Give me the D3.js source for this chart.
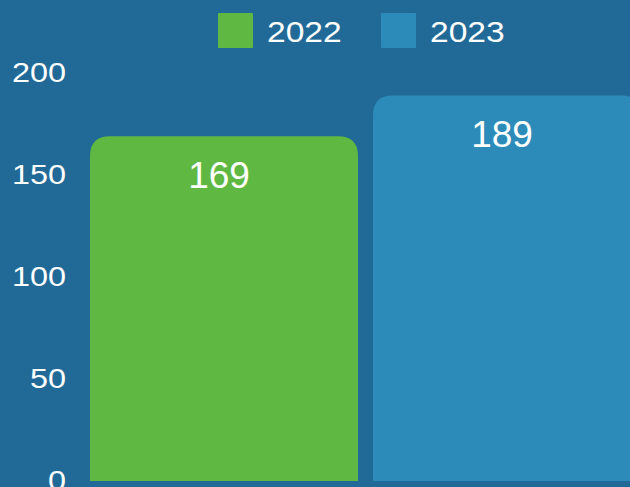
<!DOCTYPE html>
<html>
<head>
<meta charset="utf-8">
<script src="https://cdn.jsdelivr.net/npm/d3@7"></script>
<style>
  html, body { margin: 0; padding: 0; background: #216a97; overflow: hidden; }
  text { font-family: "Liberation Sans", Arial, sans-serif; fill: #fff; }
</style>
</head>
<body>
<svg id="chart" width="630" height="487"></svg>
<script>
// data
const years = ["2022", "2023"]
const values = [169, 189]
const colors = ["#5fb841", "#2d8bba"]
const yTicks = [0, 50, 100, 150, 200]

const W = 630, H = 487
const svg = d3.select("#chart")

svg.append("rect")
    .attr("width", W)
    .attr("height", H)
    .attr("fill", "#216a97")

var x = d3.scaleBand()
    .domain(years)
    .range([90, 641])
    .paddingInner(0.053)
    .paddingOuter(0)

var y = d3.scaleLinear()
    .domain([0, 200])
    .range([481, 73])

// rounded top corners only
const topRounded = function (x0, y0, w, h, r) {
    r = Math.min(r, w / 2, h)
    return "M" + x0 + "," + (y0 + h) +
        "V" + (y0 + r) +
        "Q" + x0 + "," + y0 + " " + (x0 + r) + "," + y0 +
        "H" + (x0 + w - r) +
        "Q" + (x0 + w) + "," + y0 + " " + (x0 + w) + "," + (y0 + r) +
        "V" + (y0 + h) + "Z"
}

// y axis labels, no line
var yAxis = svg.append("g")
    .attr("transform", "translate(66,0)")
    .call(d3.axisLeft(y).tickValues(yTicks).tickSize(0).tickPadding(0))
yAxis.select(".domain").remove()
yAxis.selectAll("text")
    .attr("font-size", "27px")
    .attr("font-family", "Liberation Sans, Arial, sans-serif")
    .attr("fill", "#fff")
    .attr("transform", "scale(1.2,1)")

// bars
svg.append("g")
    .selectAll("path")
    .data(years)
    .join("path")
    .attr("d", function (d, i) {
        let top = y(values[i])
        return topRounded(x(d), top, x.bandwidth(), y(0) - top, 20)
    })
    .attr("fill", function (d, i) { return colors[i] })

// value labels
svg.append("g")
    .selectAll("text")
    .data(years)
    .join("text")
    .attr("x", function (d) { return x(d) + x.bandwidth() / 2 - 5 })
    .attr("y", function (d, i) { return y(values[i]) + 52 })
    .attr("text-anchor", "middle")
    .attr("font-size", "37px")
    .text(function (d, i) { return values[i] })

// legend
var legend = svg.append("g")
var lx = [218, 381]
years.forEach(function (d, i) {
    legend.append("rect")
        .attr("x", lx[i])
        .attr("y", 13)
        .attr("width", 35)
        .attr("height", 35)
        .attr("rx", 1)
        .attr("fill", colors[i])
    legend.append("text")
        .attr("transform", "translate(" + (lx[i] + 49) + ",42) scale(1.12,1)")
        .attr("font-size", "30px")
        .text(d)
})
</script>
</body>
</html>
